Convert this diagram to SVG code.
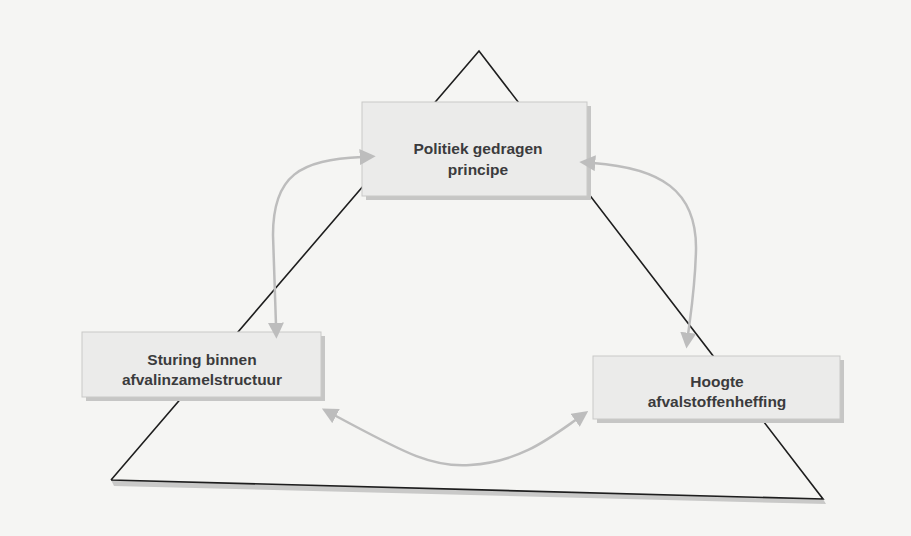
<svg xmlns="http://www.w3.org/2000/svg" width="911" height="536" viewBox="0 0 911 536">
<defs>
<style>
.box{fill:#ebebea;stroke:#c9c9c8;stroke-width:1}
.shadow{fill:#c6c6c5}
.lbl{font-family:"Liberation Sans",Arial,sans-serif;font-weight:bold;font-size:15.5px;fill:#3b3b3d;text-anchor:middle}
.conn{fill:none;stroke:#bdbdbd;stroke-width:2.5}
.tri{fill:none;stroke:#1e1e1e;stroke-width:1.6;stroke-linejoin:miter}
</style>
<marker id="ah" viewBox="0 0 14 14" refX="2" refY="7" markerWidth="16" markerHeight="16" markerUnits="userSpaceOnUse" orient="auto-start-reverse">
<path d="M0,0 L14,7 L0,14 Z" fill="#bdbdbd"/>
</marker>
</defs>
<rect width="911" height="536" fill="#f5f5f3"/>
<g id="triangle">
<polygon points="114,486 826,504 823,499 111,480" fill="#c9c9c8"/>
<polyline class="tri" points="111,480 479,51 823,499 111,480"/>
</g>
<g id="node-politiek">
<rect class="shadow" x="366" y="106" width="225" height="94"/>
<rect class="box" x="362" y="102" width="225" height="94"/>
<text class="lbl" x="478" y="154">Politiek gedragen</text>
<text class="lbl" x="478" y="175">principe</text>
</g>
<g id="node-sturing">
<rect class="shadow" x="86" y="336" width="239" height="65"/>
<rect class="box" x="82" y="332" width="239" height="65"/>
<text class="lbl" x="202" y="365">Sturing binnen</text>
<text class="lbl" x="202" y="385">afvalinzamelstructuur</text>
</g>
<g id="node-hoogte">
<rect class="shadow" x="597" y="360" width="247" height="63"/>
<rect class="box" x="593" y="356" width="247" height="63"/>
<text class="lbl" x="717" y="387">Hoogte</text>
<text class="lbl" x="717" y="407">afvalstoffenheffing</text>
</g>
<g id="connectors">
<path class="conn" d="M 362 157 C 300 160 273 175 273 235 L 276 325" marker-start="url(#ah)" marker-end="url(#ah)"/>
<path class="conn" d="M 593 163 C 660 168 697 190 696 250 C 695 290 690 318 688 335" marker-start="url(#ah)" marker-end="url(#ah)"/>
<path class="conn" d="M 334 415 C 400 450 430 468 470 465 C 520 462 550 438 577 419" marker-start="url(#ah)" marker-end="url(#ah)"/>
</g>
</svg>
